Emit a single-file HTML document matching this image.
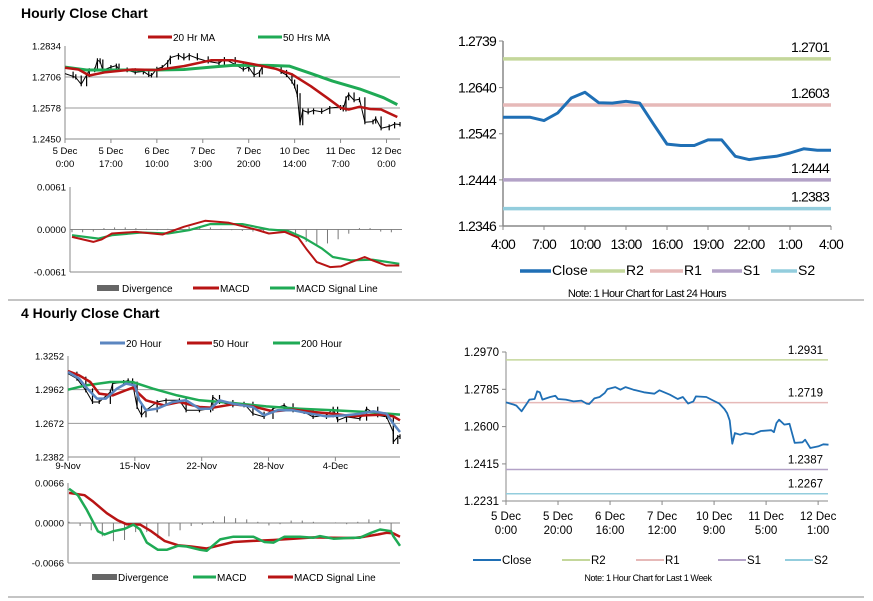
<!DOCTYPE html>
<html><head><meta charset="utf-8"><style>
html,body{margin:0;padding:0;background:#fff}
svg{display:block;font-family:"Liberation Sans",Arial,sans-serif}
</style></head><body>
<svg id="s" width="873" height="601" viewBox="0 0 873 601" xmlns="http://www.w3.org/2000/svg">
<text x="21" y="18" font-size="14" font-weight="bold">Hourly Close Chart</text>
<text x="21" y="318" font-size="14" font-weight="bold">4 Hourly Close Chart</text>
<line x1="8" y1="300" x2="864" y2="300" stroke="#888" stroke-width="1"/>
<line x1="8" y1="597" x2="864" y2="597" stroke="#888" stroke-width="1"/>
</svg>
<script>
// ---- Hourly close (last week) shared by top-left and bottom-right ----
const weekHours=[0,3,4,6,8,9,11,12,13,14,17,19,20,23,26,29,31,32,34,36,38,39,42,44,46,49,53,57,59,63,66,68,70,72,73,77,80,82,84,85,86,87,88,90,92,95,98,102,103,104,105,107,109,111,114,115,117,120,122,124];
const weekClose=[1.2720,1.2709,1.2704,1.2676,1.2714,1.2734,1.2737,1.2775,1.2770,1.2734,1.2747,1.2753,1.2737,1.2734,1.2725,1.2729,1.2714,1.2712,1.2740,1.2747,1.2767,1.2786,1.2796,1.2783,1.2796,1.2783,1.2770,1.2763,1.2780,1.2758,1.2737,1.2747,1.2714,1.2725,1.2750,1.2747,1.2727,1.2714,1.2687,1.2667,1.2631,1.2515,1.2568,1.2560,1.2568,1.2562,1.2578,1.2582,1.2572,1.2618,1.2634,1.2610,1.2614,1.2519,1.2522,1.2535,1.2494,1.2502,1.2512,1.2510];
// Top-left MAs
const ma20Hours=[0,5,9,15,25,34,44,54,62,70,78,84,91,97,102,105,109,113,117,123];
const ma20Vals=[1.2744,1.2737,1.2712,1.2726,1.2737,1.2735,1.2751,1.2775,1.2775,1.2758,1.2740,1.2717,1.2668,1.2620,1.2579,1.2572,1.2583,1.2574,1.2572,1.2541];
const ma50Hours=[0,8,19,34,44,54,62,75,83,91,99,109,118,123];
const ma50Vals=[1.2747,1.2735,1.2735,1.2735,1.2737,1.2747,1.2754,1.2754,1.2751,1.2721,1.2689,1.2657,1.2620,1.2592];
const tlTicks=[1.2834,1.2706,1.2578,1.2450];
const tlXTicks=[0,17,34,51,68,85,102,119];
const tlXLab1=["5 Dec","5 Dec","6 Dec","7 Dec","7 Dec","10 Dec","11 Dec","12 Dec"];
const tlXLab2=["0:00","17:00","10:00","3:00","20:00","14:00","7:00","0:00"];
// Top-left MACD
const m1MacdH=[0,8,11,15,24,34,42,50,59,69,74,80,85,88,92,97,101,105,110,113,118,123];
const m1Macd=[-0.00106,-0.00178,-0.00145,-0.00058,-0.00034,-0.00072,0.00039,0.00125,0.00096,0,-0.00058,-0.00034,-0.00116,-0.00275,-0.00468,-0.0054,-0.0053,-0.00468,-0.00395,-0.00443,-0.00516,-0.00516];
const m1SigH=[0,10,15,26,36,44,52,64,74,81,87,94,98,105,113,123];
const m1Sig=[-0.00082,-0.0013,-0.00082,-0.00043,-0.00058,-0.0001,0.00077,0.00077,0,-0.00019,-0.00116,-0.00275,-0.00395,-0.00443,-0.00434,-0.00492];
const m1DivH=[0,4,8,12,16,20,24,28,32,36,40,44,48,52,56,60,64,68,72,76,80,84,88,92,96,100,104,108,112,116,120];
const m1Div=[-0.0004,-0.0004,-0.0003,0.0002,0.0003,0.0003,0.0002,0.0001,-0.0001,0.0001,0.0002,0.0004,0.0005,0.0003,0.0001,-0.0001,-0.0002,-0.0003,-0.0002,-0.0001,-0.0004,-0.0010,-0.0018,-0.0024,-0.0020,-0.0014,-0.0006,0.0002,0.0002,-0.0003,-0.0004];
const m1Ticks=["0.0061","0.0000","-0.0061"];
// Top-right 24h
const dayClose=[1.2577,1.2577,1.2577,1.2570,1.2586,1.2618,1.2630,1.2608,1.2607,1.2611,1.2607,1.2563,1.2520,1.2517,1.2517,1.2529,1.2529,1.2494,1.2487,1.2491,1.2494,1.2501,1.2510,1.2507,1.2507];
const dayTicks=[1.2739,1.2640,1.2542,1.2444,1.2346];
const dayXLab=["4:00","7:00","10:00","13:00","16:00","19:00","22:00","1:00","4:00"];
const dayLevels=[1.2701,1.2603,1.2444,1.2383];
// Bottom-right week levels
const weekTicks=[1.2970,1.2785,1.2600,1.2415,1.2231];
const weekLevels=[1.2931,1.2719,1.2387,1.2267];
const brXLab1=["5 Dec","5 Dec","6 Dec","7 Dec","10 Dec","11 Dec","12 Dec"];
const brXLab2=["0:00","20:00","16:00","12:00","9:00","5:00","1:00"];
// Bottom-left 4 hourly
const blTicks=[1.3252,1.2962,1.2672,1.2382];
const blXLab=["9-Nov","15-Nov","22-Nov","28-Nov","4-Dec"];
const bl20I=[0,5,8,13,17,22,26,30,32,35,40,47,53,59,64,68,74,83,88,94,101,109,116,125,131,137,143,146,149];
const bl20V=[1.3114,1.3057,1.2985,1.2885,1.2885,1.2971,1.3014,1.2999,1.2870,1.2784,1.2798,1.2856,1.2870,1.2798,1.2798,1.2870,1.2841,1.2813,1.2741,1.2784,1.2784,1.2755,1.2732,1.2741,1.2755,1.2775,1.2755,1.2669,1.2597];
const bl50I=[0,5,10,14,20,29,35,43,50,59,65,74,83,92,101,110,119,128,134,142,146,149];
const bl50V=[1.3123,1.3086,1.3028,1.2928,1.2913,1.2979,1.2870,1.2827,1.2856,1.2813,1.2807,1.2836,1.2818,1.2775,1.2790,1.2770,1.2755,1.2732,1.2741,1.2747,1.2732,1.2698];
const bl200I=[0,8,19,29,38,49,59,74,89,104,119,134,149];
const bl200V=[1.2962,1.2999,1.3028,1.3028,1.2971,1.2913,1.2870,1.2847,1.2818,1.2798,1.2784,1.2770,1.2747];
const blCloseI=[0,4,8,11,14,19,20,25,27,29,31,33,35,40,44,50,53,59,64,65,68,74,79,83,88,92,97,101,106,110,116,119,121,125,131,134,139,143,146,146,148,149];
const blCloseV=[1.3100,1.3057,1.2956,1.2856,1.2856,1.2942,1.3014,1.3028,1.3042,1.3014,1.2813,1.2741,1.2784,1.2856,1.2870,1.2870,1.2784,1.2784,1.2798,1.2899,1.2856,1.2827,1.2841,1.2755,1.2727,1.2798,1.2827,1.2784,1.2770,1.2727,1.2741,1.2798,1.2698,1.2727,1.2712,1.2798,1.2741,1.2727,1.2597,1.2511,1.2554,1.2560];
const m2MacdI=[0,4,8,13,16,20,25,29,32,35,40,44,49,53,59,62,68,74,83,88,92,97,104,110,113,119,128,131,136,140,145,146,149];
const m2Macd=[0.00566,0.00458,0.00216,-0.00135,-0.00189,-0.00135,-0.00097,-0.00027,-0.00108,-0.00323,-0.00442,-0.00442,-0.00377,-0.00388,-0.00442,-0.00458,-0.0027,-0.00226,-0.00226,-0.00313,-0.00323,-0.00226,-0.00226,-0.00243,-0.00216,-0.00259,-0.00243,-0.00243,-0.00162,-0.00108,-0.00135,-0.00216,-0.00377];
const m2SigI=[0,7,11,17,22,26,32,37,43,49,55,62,68,74,83,92,101,110,119,128,133,139,143,146,149];
const m2Sig=[0.00496,0.00458,0.0035,0.00162,0.00043,-0.00022,-0.00027,-0.00135,-0.00296,-0.00367,-0.00388,-0.0042,-0.00367,-0.00313,-0.00296,-0.0028,-0.00259,-0.00237,-0.00243,-0.00248,-0.00226,-0.00189,-0.00162,-0.00172,-0.00226];
const m2DivI=[0,5,10,15,20,25,30,35,40,45,50,55,60,65,70,75,80,85,90,95,100,105,110,115,120,125,130,135,140,145];
const m2Div=[0.0002,-0.0005,-0.0012,-0.0022,-0.003,-0.0028,-0.0015,-0.0015,-0.0025,-0.0022,-0.0012,-0.0005,-0.0003,0.0003,0.0011,0.0008,0.0006,0.0002,-0.0004,-0.0002,0.0004,0.0004,0.0002,0,0.0001,-0.0002,0.0002,0.0006,0.0005,-0.0012];
const m2Ticks=["0.0066","0.0000","-0.0066"];

const svg=document.getElementById('s');
const NS='http://www.w3.org/2000/svg';
function mk(tag,a,parent){const e=document.createElementNS(NS,tag);for(const k in a)e.setAttribute(k,a[k]);(parent||svg).appendChild(e);return e;}
function txt(x,y,s,size,anchor,parent,fill){const t=mk('text',{x:x,y:y,'font-size':size,'text-anchor':anchor||'start',fill:fill||'#000'},parent);t.textContent=s;return t;}
function lin(d0,d1,r0,r1){return v=>r0+(v-d0)/(d1-d0)*(r1-r0);}
function poly(xs,ys,sx,sy,color,w,parent,name){const p=xs.map((x,i)=>sx(x).toFixed(1)+','+sy(ys[i]).toFixed(1)).join(' ');const e=mk('polyline',{points:p,fill:'none',stroke:color,'stroke-width':w,'stroke-linejoin':'round'},parent);return e;}
function group(name){const g=mk('g',{});return g;}
function legLine(x1,x2,y,color,w,label,fs,parent,name){const g=mk('g',{},parent);mk('line',{x1:x1,y1:y,x2:x2,y2:y,stroke:color,'stroke-width':w},g);txt(x2+1,y+4,label,fs,'start',g);}

// ===== Top-left price =====
(function(){
const g=group('hourly-price-chart');
const L=65,R=400,T=46,B=139;
const sx=lin(0,124,L,R), sy=lin(1.2450,1.2834,B,T);
tlTicks.forEach((t,i)=>{if(i>0&&i<3)mk('line',{x1:L,y1:sy(t),x2:R,y2:sy(t),stroke:'#999','stroke-width':1},g);txt(L-4,sy(t)+3.5,t.toFixed(4),9.5,'end',g);});
mk('line',{x1:L,y1:T,x2:L,y2:B,stroke:'#888'},g);
mk('line',{x1:L,y1:B,x2:R,y2:B,stroke:'#888'},g);
tlXTicks.forEach((h,i)=>{mk('line',{x1:sx(h),y1:B,x2:sx(h),y2:B+4,stroke:'#888'},g);txt(sx(h),B+15,tlXLab1[i],9.5,'middle',g);txt(sx(h),B+28,tlXLab2[i],9.5,'middle',g);});
// bars
const bars=mk('g',{},g);
weekHours.forEach((h,i)=>{if(i===0)return;const a=weekClose[i-1],b=weekClose[i];mk('line',{x1:sx(h),y1:sy(Math.max(a,b))-2,x2:sx(h),y2:sy(Math.min(a,b))+2,stroke:'#000','stroke-width':1.2},bars);});
poly(weekHours,weekClose,sx,sy,'#000',1,g,'hourly-close-line');
poly(ma50Hours,ma50Vals,sx,sy,'#1faa55',3,g,'ma50-line');
poly(ma20Hours,ma20Vals,sx,sy,'#b81414',2.5,g,'ma20-line');
legLine(148,172,37,'#b81414',3,'20 Hr MA',10,g,'legend-ma20');
legLine(258,282,37,'#1faa55',3,'50 Hrs MA',10,g,'legend-ma50');
})();
// ===== Top-left MACD =====
(function(){
const g=group('hourly-macd-chart');
const L=70,R=402,T=187,B=272;
const sx=lin(0,124,L+2,R), sy=lin(-0.0061,0.0061,B,T);
[0.0061,0,-0.0061].forEach((v,i)=>txt(L-4,sy(v)+3.5,m1Ticks[i],9.5,'end',g));
mk('line',{x1:L,y1:T,x2:L,y2:B,stroke:'#888'},g);
mk('line',{x1:L,y1:B,x2:R,y2:B,stroke:'#888'},g);
mk('line',{x1:L,y1:sy(0),x2:R,y2:sy(0),stroke:'#888'},g);
m1DivH.forEach((h,i)=>{const e=mk('line',{x1:sx(h),y1:sy(0),x2:sx(h),y2:sy(m1Div[i]),stroke:'#777','stroke-width':1},g);});
poly(m1SigH,m1Sig,sx,sy,'#1faa55',2.2,g,'hourly-signal-line');
poly(m1MacdH,m1Macd,sx,sy,'#b81414',2,g,'hourly-macd-line');
const d=mk('g',{},g);
mk('rect',{x:97,y:285,width:22,height:6,fill:'#666'},d);txt(122,292,'Divergence',10,'start',d);
legLine(193,219,288,'#b81414',3,'MACD',10,g,'legend-macd');
legLine(270,295,288,'#1faa55',3,'MACD Signal Line',10,g,'legend-signal');
})();
// ===== Top-right 24h =====
(function(){
const g=group('day-close-chart');
const L=503,R=831,T=41,B=226;
const sx=lin(0,24,L,R), sy=lin(1.2346,1.2739,B,T);
dayTicks.forEach(t=>{mk('line',{x1:L-4,y1:sy(t),x2:L,y2:sy(t),stroke:'#888'},g);txt(L-7,sy(t)+5,t.toFixed(4),14,'end',g).setAttribute('letter-spacing','-0.8');});
mk('line',{x1:L,y1:T,x2:L,y2:B,stroke:'#888','stroke-width':1.5},g);
mk('line',{x1:L,y1:B,x2:R,y2:B,stroke:'#888','stroke-width':1.5},g);
dayXLab.forEach((s,i)=>{const x=sx(i*3);mk('line',{x1:x,y1:B,x2:x,y2:B+4,stroke:'#888'},g);txt(x,B+23,s,14,'middle',g).setAttribute('letter-spacing','-0.8');});
const cols=['#c4d79b','#e6b9b8','#b3a2c7','#93cddd'];
dayLevels.forEach((v,i)=>{const l=mk('line',{x1:L,y1:sy(v),x2:R,y2:sy(v),stroke:cols[i],'stroke-width':3.5},g);txt(R-2,sy(v)-7,v.toFixed(4),14,'end',g).setAttribute('letter-spacing','-0.8');});
poly(dayClose.map((v,i)=>i),dayClose,sx,sy,'#1f6fb5',3,g,'day-close-line');
legLine(520,551,271,'#1f6fb5',3.5,'Close',14,g,'legend-close');
legLine(590,625,271,cols[0],3.5,'R2',14,g,'legend-r2');
legLine(650,683,271,cols[1],3.5,'R1',14,g,'legend-r1');
legLine(712,742,271,cols[2],3.5,'S1',14,g,'legend-s1');
legLine(771,797,271,cols[3],3.5,'S2',14,g,'legend-s2');
txt(647,297,'Note: 1 Hour Chart for Last 24 Hours',11,'middle',g).setAttribute('letter-spacing','-0.6');
})();
// ===== Bottom-right week =====
(function(){
const g=group('week-close-chart');
const L=506,R=828,T=352,B=501;
const sx=lin(0,123.8,L,R), sy=lin(1.2231,1.2970,B,T);
weekTicks.forEach(t=>{mk('line',{x1:L-4,y1:sy(t),x2:L,y2:sy(t),stroke:'#888'},g);txt(L-7,sy(t)+4,t.toFixed(4),11.5,'end',g);});
mk('line',{x1:L,y1:T,x2:L,y2:B,stroke:'#888'},g);
mk('line',{x1:L,y1:B,x2:R,y2:B,stroke:'#888'},g);
brXLab1.forEach((s,i)=>{const x=sx(i*20);mk('line',{x1:x,y1:B,x2:x,y2:B+4,stroke:'#888'},g);txt(x,B+19,s,11.5,'middle',g);txt(x,B+33,brXLab2[i],11.5,'middle',g);});
const cols=['#c4d79b','#e6b9b8','#b3a2c7','#93cddd'];
weekLevels.forEach((v,i)=>{const l=mk('line',{x1:L,y1:sy(v),x2:R,y2:sy(v),stroke:cols[i],'stroke-width':1.5},g);txt(R-5,sy(v)-6,v.toFixed(4),11.5,'end',g);});
poly(weekHours,weekClose,sx,sy,'#1f6fb5',1.8,g,'week-close-line');
legLine(473,501,560,'#1f6fb5',2,'Close',11.5,g,'legend-week-close');
legLine(562,590,560,cols[0],2,'R2',11.5,g,'legend-week-r2');
legLine(636,664,560,cols[1],2,'R1',11.5,g,'legend-week-r1');
legLine(718,746,560,cols[2],2,'S1',11.5,g,'legend-week-s1');
legLine(785,813,560,cols[3],2,'S2',11.5,g,'legend-week-s2');
txt(648,581,'Note: 1 Hour Chart for Last 1 Week',9,'middle',g).setAttribute('letter-spacing','-0.4');
})();
// ===== Bottom-left 4H price =====
(function(){
const g=group('four-hour-price-chart');
const L=68,R=400,T=356,B=457;
const sx=lin(0,149,L,R), sy=lin(1.2382,1.3252,B,T);
blTicks.forEach((t,i)=>{if(i>0&&i<3)mk('line',{x1:L,y1:sy(t),x2:R,y2:sy(t),stroke:'#999'},g);txt(L-4,sy(t)+3.5,t.toFixed(4),9.5,'end',g);});
mk('line',{x1:L,y1:T,x2:L,y2:B,stroke:'#888'},g);
mk('line',{x1:L,y1:B,x2:R,y2:B,stroke:'#888'},g);
blXLab.forEach((s,i)=>{const x=sx(i*30);mk('line',{x1:x,y1:B,x2:x,y2:B+4,stroke:'#888'},g);txt(x,B+12,s,9.5,'middle',g);});
const bars=mk('g',{},g);
blCloseI.forEach((h,i)=>{if(i===0)return;const a=blCloseV[i-1],b=blCloseV[i];mk('line',{x1:sx(h),y1:sy(Math.max(a,b))-2,x2:sx(h),y2:sy(Math.min(a,b))+2,stroke:'#000','stroke-width':1.2},bars);});
poly(blCloseI,blCloseV,sx,sy,'#000',1,g,'four-hour-close-line');
poly(bl200I,bl200V,sx,sy,'#1faa55',2.5,g,'ma200-line');
poly(bl50I,bl50V,sx,sy,'#b81414',2.5,g,'ma50h-line');
poly(bl20I,bl20V,sx,sy,'#5b86c0',2.5,g,'ma20h-line');
legLine(100,125,343,'#5b86c0',3,'20 Hour',10,g,'legend-20h');
legLine(187,212,343,'#b81414',3,'50 Hour',10,g,'legend-50h');
legLine(273,300,343,'#1faa55',3,'200 Hour',10,g,'legend-200h');
})();
// ===== Bottom-left MACD =====
(function(){
const g=group('four-hour-macd-chart');
const L=68,R=400,T=483,B=563;
const sx=lin(0,149,L+1,R), sy=lin(-0.0066,0.0066,B,T);
[0.0066,0,-0.0066].forEach((v,i)=>txt(L-4,sy(v)+3.5,m2Ticks[i],9.5,'end',g));
mk('line',{x1:L,y1:T,x2:L,y2:B,stroke:'#888'},g);
mk('line',{x1:L,y1:B,x2:R,y2:B,stroke:'#888'},g);
mk('line',{x1:L,y1:sy(0),x2:R,y2:sy(0),stroke:'#888'},g);
m2DivI.forEach((h,i)=>{mk('line',{x1:sx(h),y1:sy(0),x2:sx(h),y2:sy(m2Div[i]),stroke:'#777','stroke-width':1},g);});
poly(m2SigI,m2Sig,sx,sy,'#b81414',2.5,g,'four-hour-signal-line');
poly(m2MacdI,m2Macd,sx,sy,'#1faa55',2.5,g,'four-hour-macd-line');
const d=mk('g',{},g);
mk('rect',{x:92,y:574,width:25,height:6,fill:'#666'},d);txt(118,581,'Divergence',10,'start',d);
legLine(193,216,577,'#1faa55',3,'MACD',10,g,'legend-macd-4h');
legLine(268,293,577,'#b81414',3,'MACD Signal Line',10,g,'legend-signal-4h');
})();
</script>
</body></html>
